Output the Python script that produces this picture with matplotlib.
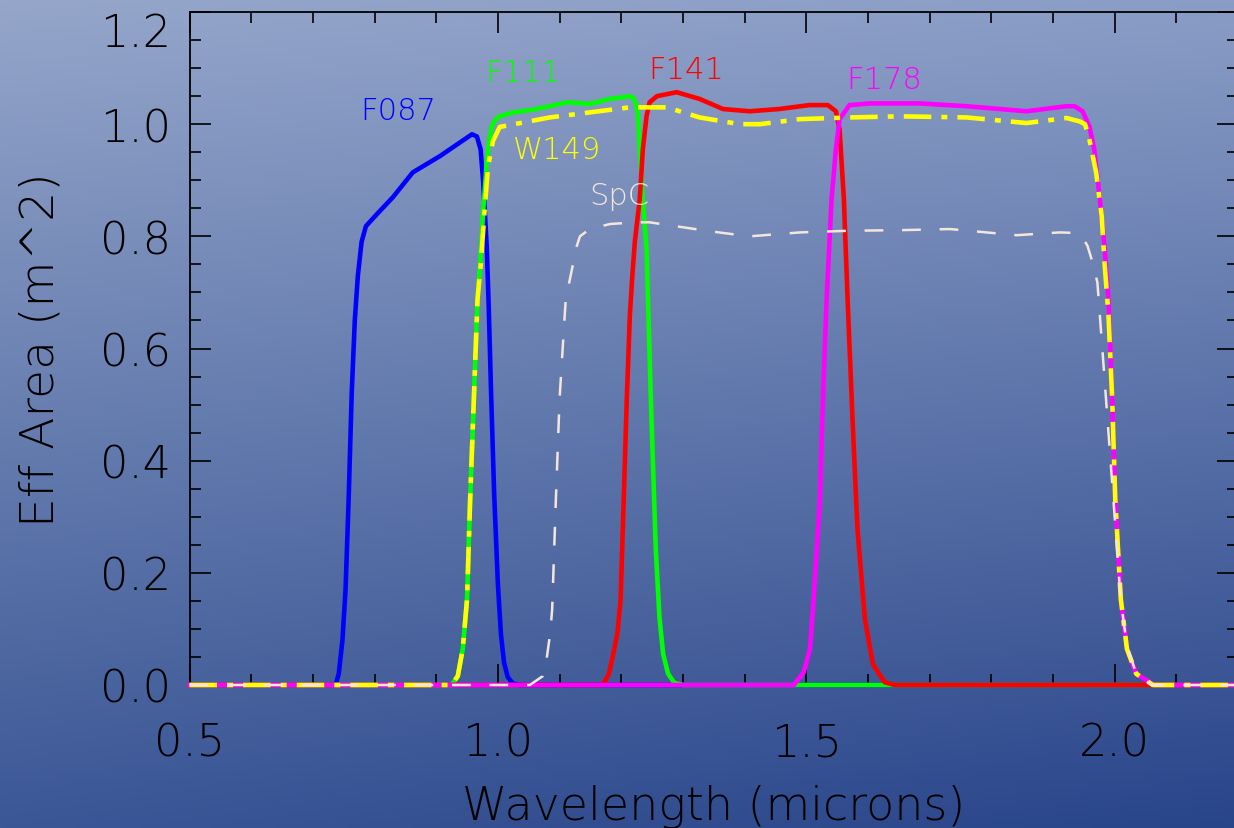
import matplotlib
matplotlib.use("Agg")
import matplotlib.pyplot as plt
import numpy as np

# --- data (wavelength in microns, effective area in m^2)
f087_w = [0.50, 0.737, 0.742, 0.748, 0.753, 0.758, 0.763, 0.768, 0.773, 0.779, 0.786, 0.800, 0.830,
          0.862, 0.906, 0.958, 0.966, 0.972, 0.976, 0.979, 0.982, 0.985, 0.989, 0.994, 1.000, 1.005,
          1.010, 1.016, 1.024, 1.035, 2.20]
f087_a = [0.0, 0.0, 0.02, 0.08, 0.17, 0.33, 0.52, 0.65, 0.73, 0.79, 0.818, 0.835, 0.870,
          0.914, 0.943, 0.982, 0.978, 0.955, 0.90, 0.84, 0.78, 0.68, 0.52, 0.34, 0.18, 0.09,
          0.04, 0.014, 0.003, 0.0, 0.0]

f111_w = [0.50, 0.925, 0.935, 0.943, 0.950, 0.955, 0.961, 0.967, 0.971, 0.976, 0.982, 0.986, 0.990,
          0.996, 1.003, 1.025, 1.052, 1.080, 1.112, 1.149, 1.181, 1.202, 1.214, 1.220, 1.224, 1.227,
          1.230, 1.235, 1.241, 1.248, 1.256, 1.262, 1.268, 1.276, 1.286, 1.300, 2.20]
f111_a = [0.0, 0.0, 0.016, 0.064, 0.153, 0.33, 0.51, 0.688, 0.747, 0.843, 0.932, 0.97, 0.996,
          1.008, 1.014, 1.021, 1.025, 1.031, 1.039, 1.036, 1.045, 1.048, 1.050, 1.046, 1.035, 1.018,
          0.955, 0.866, 0.777, 0.51, 0.242, 0.12, 0.055, 0.02, 0.004, 0.0, 0.0]

f141_w = [0.50, 1.170, 1.180, 1.188, 1.194, 1.199, 1.204, 1.209, 1.214, 1.218, 1.222, 1.230, 1.235,
          1.241, 1.246, 1.258, 1.290, 1.327, 1.365, 1.408, 1.456, 1.505, 1.535, 1.548, 1.554, 1.561,
          1.567, 1.575, 1.583, 1.595, 1.608, 1.627, 1.643, 2.20]
f141_a = [0.0, 0.0, 0.02, 0.06, 0.094, 0.153, 0.33, 0.51, 0.66, 0.73, 0.79, 0.866, 0.955,
          1.014, 1.039, 1.050, 1.057, 1.045, 1.027, 1.023, 1.027, 1.034, 1.034, 1.023, 0.991, 0.866,
          0.688, 0.474, 0.278, 0.118, 0.037, 0.005, 0.0, 0.0]

f178_w = [0.50, 1.480, 1.496, 1.506, 1.512, 1.522, 1.527, 1.533, 1.541, 1.548, 1.554, 1.570, 1.603,
          1.684, 1.760, 1.857, 1.922, 1.935, 1.948, 1.959, 1.967, 1.976, 1.984, 1.990, 1.996, 2.001,
          2.010, 2.020, 2.035, 2.064, 2.20]
f178_a = [0.0, 0.0, 0.023, 0.064, 0.153, 0.33, 0.51, 0.688, 0.866, 0.955, 1.009, 1.034, 1.037,
          1.037, 1.032, 1.023, 1.032, 1.032, 1.023, 0.996, 0.955, 0.866, 0.777, 0.688, 0.51, 0.33,
          0.153, 0.064, 0.02, 0.0, 0.0]

w149_w = [0.50, 0.925, 0.935, 0.943, 0.950, 0.955, 0.961, 0.967, 0.972, 0.979, 0.984, 0.992, 1.003,
          1.084, 1.149, 1.214, 1.274, 1.327, 1.392, 1.425, 1.490, 1.571, 1.652, 1.760, 1.857, 1.922,
          1.943, 1.952, 1.959, 1.970, 1.979, 1.984, 1.990, 1.996, 2.001, 2.010, 2.020, 2.035, 2.062,
          2.20]
w149_a = [0.0, 0.0, 0.016, 0.064, 0.153, 0.33, 0.51, 0.688, 0.747, 0.854, 0.925, 0.970, 0.995,
          1.012, 1.021, 1.030, 1.030, 1.012, 1.000, 1.000, 1.009, 1.012, 1.014, 1.012, 1.002, 1.011,
          1.005, 1.000, 0.973, 0.914, 0.836, 0.747, 0.66, 0.51, 0.33, 0.153, 0.064, 0.02, 0.0,
          0.0]

spc_w = [0.50, 1.052, 1.065, 1.073, 1.079, 1.085, 1.088, 1.094, 1.100, 1.110, 1.128, 1.133, 1.149,
         1.182, 1.225, 1.246, 1.344, 1.408, 1.490, 1.571, 1.652, 1.733, 1.841, 1.911, 1.938, 1.948,
         1.956, 1.964, 1.972, 1.980, 1.990, 2.000, 2.010, 2.020, 2.035, 2.060, 2.20]
spc_a = [0.0, 0.0, 0.01, 0.016, 0.046, 0.094, 0.135, 0.33, 0.51, 0.688, 0.783, 0.800, 0.813,
         0.822, 0.825, 0.825, 0.809, 0.800, 0.807, 0.810, 0.811, 0.813, 0.802, 0.807, 0.806, 0.798,
         0.783, 0.754, 0.718, 0.60, 0.45, 0.30, 0.15, 0.07, 0.02, 0.0, 0.0]

names = ["F087", "F111", "F141", "F178", "W149", "SpC"]
label_w = [0.838, 1.041, 1.306, 1.626, 1.096, 1.196]
label_a = [1.025, 1.093, 1.098, 1.080, 0.955, 0.872]

colors = ["#0000ff", "#00ff00", "#ff0000", "#ff00ff", "#ffff00", "#f5e6dc"]

# -------------------------------
plt.rcParams["font.family"] = ["DejaVu Sans"]
plt.rcParams["font.weight"] = 200
plt.rcParams["axes.labelweight"] = 200

W, H = 1234, 829
fig = plt.figure(figsize=(W / 100, H / 100), dpi=100)

# gradient background (light top-left -> dark bottom-right)
tl = np.array([149, 166, 202]) / 255
tr = np.array([138, 157, 198]) / 255
bl = np.array([59, 87, 150]) / 255
br = np.array([41, 69, 138]) / 255
u = np.linspace(0, 1, 200)[None, :, None]
v = np.linspace(0, 1, 200)[:, None, None]
grad = (1 - v) * ((1 - u) * tl + u * tr) + v * ((1 - u) * bl + u * br)
bg = fig.add_axes([0, 0, 1, 1])
bg.imshow(grad, extent=[0, 1, 0, 1], aspect="auto", origin="upper", zorder=0)
bg.axis("off")

x0, x1, y0, y1 = 189.5, 1238, 686, 13
ax = fig.add_axes([x0 / W, 1 - y0 / H, (x1 - x0) / W, (y0 - y1) / H])
ax.patch.set_alpha(0)

ax.plot(f087_w, f087_a, color=colors[0], lw=3.3, clip_on=False, zorder=3)
ax.plot(f111_w, f111_a, color=colors[1], lw=3.3, clip_on=False, zorder=3)
ax.plot(f141_w, f141_a, color=colors[2], lw=3.3, clip_on=False, zorder=3)
ax.plot(f178_w, f178_a, color=colors[3], lw=3.3, clip_on=False, zorder=3)
ax.plot(w149_w, w149_a, color=colors[4], lw=3.3, clip_on=False, zorder=4,
        linestyle=(0, (6, 2.2, 1.3, 2.2)))
ax.plot(spc_w, spc_a, color=colors[5], lw=1.8, clip_on=False, zorder=5,
        linestyle=(0, (7.5, 7.5)))

for name, xw, ya, c in zip(names, label_w, label_a, colors):
    ax.text(xw, ya, name, color=c, fontsize=22, ha="center", va="center")

ax.set_xlim(0.5, 2.2)
ax.set_ylim(0.0, 1.2)
ax.set_xticks([0.5, 1.0, 1.5, 2.0])
ax.set_xticks(np.arange(0.5, 2.25, 0.1), minor=True)
ax.set_yticks(np.arange(0, 1.21, 0.2))
ax.set_yticks(np.arange(0, 1.21, 0.05), minor=True)
ax.set_xticklabels(["0.5", "1.0", "1.5", "2.0"])
ax.set_yticklabels(["0.0", "0.2", "0.4", "0.6", "0.8", "1.0", "1.2"])
ax.tick_params(which="both", direction="in", top=True, right=True, color="black", width=1.2)
ax.tick_params(which="major", length=15)
ax.tick_params(which="minor", length=8)
ax.tick_params(axis="x", which="major", pad=26, labelsize=32)
ax.tick_params(axis="y", which="major", pad=13, labelsize=32)
ax.get_yticklabels()[-1].set_va("top")
for s in ax.spines.values():
    s.set_color("black")
    s.set_linewidth(1.3)

ax.set_xlabel("Wavelength (microns)", fontsize=33, fontweight=200, labelpad=14)
ax.set_ylabel("Eff Area (m^2)", fontsize=34, fontweight=200, labelpad=27)

fig.savefig("out.png", dpi=100)
